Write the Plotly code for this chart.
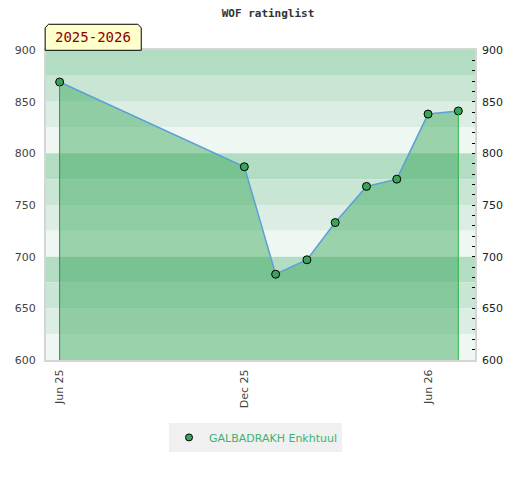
import plotly.graph_objects as go

# data
dates = ['2025-06-01', '2025-12-01', '2026-01-01', '2026-02-01', '2026-03-01',
         '2026-04-01', '2026-05-01', '2026-06-01', '2026-07-01']
ratings = [869, 787, 683, 697, 733, 768, 775, 838, 841]
player = 'GALBADRAKH Enkhtuul'
season = '2025-2026'
title = 'WOF ratinglist'
y_min, y_max = 600, 900
x_range = ['2025-05-18 12:00', '2026-07-17 12:00']
tick_dates = ['2025-06-01', '2025-12-01', '2026-06-01']
tick_text = ['Jun 25', 'Dec 25', 'Jun 26']

band_colors = ['rgb(179,221,195)', 'rgb(201,230,212)', 'rgb(220,238,227)', 'rgb(239,247,242)']
dot_color = 'rgb(58,165,90)'

fig = go.Figure()

# baseline for the area
fig.add_trace(go.Scatter(x=dates, y=[y_min] * len(dates), mode='lines',
                         line=dict(width=0), showlegend=False, hoverinfo='skip'))
fig.add_trace(go.Scatter(
    x=dates, y=ratings, mode='lines+markers', name=player, showlegend=False,
    fill='tonexty', fillcolor='rgba(52,165,86,0.45)',
    line=dict(color='rgb(91,160,215)', width=1.5),
    marker=dict(color=dot_color, size=8, line=dict(color='black', width=1)),
))
# edges of the area
fig.add_trace(go.Scatter(x=[dates[0], dates[0]], y=[y_min, ratings[0]], mode='lines',
                         line=dict(color='rgb(50,140,80)', width=1), showlegend=False, hoverinfo='skip'))
fig.add_trace(go.Scatter(x=[dates[-1], dates[-1]], y=[y_min, ratings[-1]], mode='lines',
                         line=dict(color='rgb(45,180,75)', width=1), showlegend=False, hoverinfo='skip'))
# legend entry (dot only)
fig.add_trace(go.Scatter(x=[None], y=[None], mode='markers', name=player,
                         marker=dict(color=dot_color, size=7, line=dict(color='black', width=1))))
# dummy for right axis
fig.add_trace(go.Scatter(x=[dates[0]], y=[ratings[0]], yaxis='y2', mode='markers',
                         marker=dict(opacity=0), showlegend=False, hoverinfo='skip'))

# horizontal bands every 25
shapes = []
for i, lo in enumerate(range(y_max - 25, y_min - 1, -25)):
    shapes.append(dict(type='rect', xref='paper', yref='y', x0=0, x1=1, y0=lo, y1=lo + 25,
                       fillcolor=band_colors[i % 4], line=dict(width=0), layer='below'))

# season label box with cut corners
shapes.append(dict(type='path', xref='paper', yref='paper',
                   path='M -0.002 0.999 L -0.002 1.072 L 0.006 1.083 L 0.214 1.083 L 0.222 1.072 L 0.222 0.999 Z',
                   fillcolor='rgb(255,255,204)', line=dict(color='black', width=1), layer='above'))

fig.update_layout(
    width=520, height=480,
    margin=dict(l=38, r=53, t=42, b=128),
    paper_bgcolor='white', plot_bgcolor='white',
    font=dict(family='DejaVu Sans', size=11, color='#444'),
    title=dict(text='<b>' + title + '</b>', x=0.5, xanchor='center', y=0.99, yanchor='middle',
               font=dict(family='DejaVu Sans Mono', size=11, color='#333')),
    shapes=shapes,
    annotations=[dict(text=season, xref='paper', yref='paper', x=0.11, y=1.041,
                      xanchor='center', yanchor='middle',
                      showarrow=False, font=dict(family='DejaVu Sans Mono', size=14, color='rgb(139,0,0)'))],
    xaxis=dict(type='date', range=x_range, tickvals=tick_dates, ticktext=tick_text,
               tickangle=-90, showgrid=False, zeroline=False, ticks='', automargin=False,
               showline=True, linecolor='#d5d5d5', linewidth=2, mirror=True,
               tickfont=dict(size=11, color='#444'), ticklabelstandoff=3),
    yaxis=dict(range=[y_min, y_max], dtick=50, showgrid=False, zeroline=False, ticks='', automargin=False,
               showline=True, linecolor='#d5d5d5', linewidth=2, mirror=True,
               tickfont=dict(size=11, color='#444'), ticklabelstandoff=6),
    yaxis2=dict(range=[y_min, y_max], dtick=50, overlaying='y', side='right', showgrid=False,
                zeroline=False, ticks='inside', ticklen=3, tickcolor='black', tickwidth=1, automargin=False,
                minor=dict(dtick=10, ticks='inside', ticklen=3, tickcolor='black', tickwidth=1),
                tickfont=dict(size=11, color='#222'), ticklabelstandoff=6, showline=False),
    legend=dict(orientation='h', x=0.5 - 5 / 430, xanchor='center', y=-0.203, yanchor='top',
                bgcolor='#f0f0f0', font=dict(size=11, color='rgb(60,179,113)'), itemwidth=30),
    showlegend=True,
)

fig.write_html('out.html')
